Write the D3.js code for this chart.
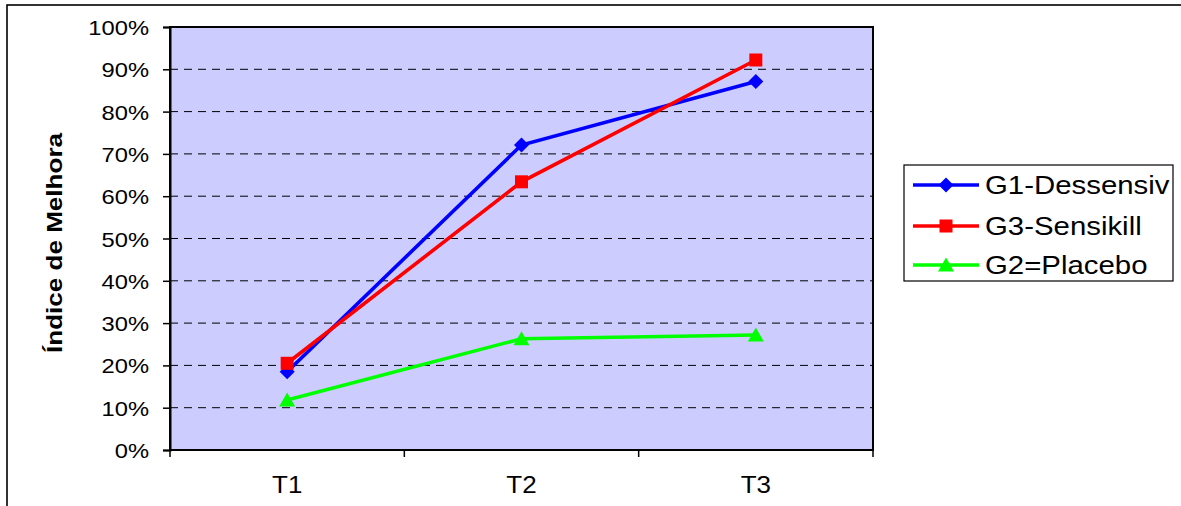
<!DOCTYPE html>
<html><head><meta charset="utf-8">
<script src="https://cdn.jsdelivr.net/npm/d3@7"></script>
<style>body{margin:0;background:#fff}svg{display:block}text{font-family:"Liberation Sans",Arial,sans-serif;fill:#000}</style>
</head><body>
<svg id="c" width="1181" height="506"></svg>
<script>
const categories = ["T1", "T2", "T3"];
const seriesNames = ["G1-Dessensiv", "G3-Sensikill", "G2=Placebo"];
const g1Values = [0.185, 0.721, 0.871];
const g3Values = [0.205, 0.634, 0.922];
const g2Values = [0.118, 0.263, 0.272];
const yTickValues = [0, 0.1, 0.2, 0.3, 0.4, 0.5, 0.6, 0.7, 0.8, 0.9, 1.0];
const yTickLabels = ["0%", "10%", "20%", "30%", "40%", "50%", "60%", "70%", "80%", "90%", "100%"];
const yTitle = "Índice de Melhora";

const series = [
  {name: seriesNames[0], values: g1Values, color: "#0000FF", marker: "diamond"},
  {name: seriesNames[1], values: g3Values, color: "#FF0000", marker: "square"},
  {name: seriesNames[2], values: g2Values, color: "#00FF00", marker: "triangle"}
];

const SX = 1.13;
const svg = d3.select("#c");
const L = 170, R = 873, T = 27, B = 450;
const x = d3.scaleBand().domain(categories).range([L, R]);
const y = d3.scaleLinear().domain([0, 1]).range([B, T]);
const cx = c => x(c) + x.bandwidth() / 2;

// outer chart border (cropped)
svg.append("rect").attr("x", 7).attr("y", 5).attr("width", 1300).attr("height", 700)
  .attr("fill", "none").attr("stroke", "#000").attr("stroke-width", 1.6);

// plot area
svg.append("rect").attr("x", L).attr("y", T).attr("width", R - L).attr("height", B - T)
  .attr("fill", "#CCCCFF");

// gridlines
svg.append("g").selectAll("line").data(yTickValues.filter(v => v > 0 && v < 1)).join("line")
  .attr("x1", L).attr("x2", R).attr("y1", d => y(d)).attr("y2", d => y(d))
  .attr("stroke", "#000").attr("stroke-width", 1).attr("stroke-dasharray", "8,6");

svg.append("rect").attr("x", L).attr("y", T).attr("width", R - L).attr("height", B - T)
  .attr("fill", "none").attr("stroke", "#000").attr("stroke-width", 2);

// y axis
const yAxis = svg.append("g").attr("transform", `translate(${L},0)`)
  .call(d3.axisLeft(y).tickValues(yTickValues).tickSize(7).tickPadding(0)
    .tickFormat((d, i) => yTickLabels[i]));
yAxis.select(".domain").attr("stroke", "#000").attr("stroke-width", 2);
yAxis.selectAll(".tick line").attr("stroke", "#000").attr("stroke-width", 1.5);
yAxis.selectAll(".tick text").attr("font-size", 21).attr("x", -21 / SX)
  .attr("dy", "0.36em").attr("transform", `scale(${SX},1)`).attr("fill", "#000");

// x axis
const xg = svg.append("g");
xg.append("line").attr("x1", L).attr("x2", R).attr("y1", B).attr("y2", B).attr("stroke", "#000").attr("stroke-width", 2);
const bounds = categories.map(c => x(c)).concat([x(categories[categories.length - 1]) + x.bandwidth()]);
xg.selectAll("line.tk").data(bounds).join("line").attr("class", "tk")
  .attr("x1", d => d).attr("x2", d => d).attr("y1", B).attr("y2", B + 7)
  .attr("stroke", "#000").attr("stroke-width", 1.5);
xg.selectAll("text").data(categories).join("text")
  .attr("transform", d => `translate(${cx(d)},493) scale(${SX},1)`)
  .attr("text-anchor", "middle").attr("font-size", 23).text(d => d);

// y title
svg.append("text").attr("transform", "translate(62,243) rotate(-90)")
  .attr("text-anchor", "middle").attr("font-size", 22).attr("font-weight", "bold")
  .attr("textLength", 220).attr("lengthAdjust", "spacingAndGlyphs").text(yTitle);

// markers
function drawMarker(sel, type, color) {
  if (type === "diamond") {
    sel.append("path").attr("d", "M0,-7.5L7.5,0L0,7.5L-7.5,0Z").attr("fill", color);
  } else if (type === "square") {
    sel.append("rect").attr("x", -6.5).attr("y", -6.5).attr("width", 13).attr("height", 13).attr("fill", color);
  } else {
    sel.append("path").attr("d", "M0,-7.5L8,6.5L-8,6.5Z").attr("fill", color);
  }
}

const line = d3.line().x((d, i) => cx(categories[i])).y(d => y(d));
series.forEach(s => {
  svg.append("path").attr("d", line(s.values)).attr("fill", "none")
    .attr("stroke", s.color).attr("stroke-width", 3.6);
  s.values.forEach((v, i) => {
    const g = svg.append("g").attr("transform", `translate(${cx(categories[i])},${y(v)})`);
    drawMarker(g, s.marker, s.color);
  });
});

// legend
const lg = svg.append("g");
lg.append("rect").attr("x", 904).attr("y", 165).attr("width", 269).attr("height", 116)
  .attr("fill", "#fff").attr("stroke", "#000").attr("stroke-width", 1.2);
const rowY = [185, 226, 265];
series.forEach((s, i) => {
  const r = lg.append("g").attr("transform", `translate(0,${rowY[i]})`);
  r.append("line").attr("x1", 913).attr("x2", 979).attr("y1", 0).attr("y2", 0)
    .attr("stroke", s.color).attr("stroke-width", 3.6);
  drawMarker(r.append("g").attr("transform", "translate(946,0)"), s.marker, s.color);
  r.append("text").attr("transform", `translate(985,9) scale(${SX},1)`)
    .attr("font-size", 26).text(s.name);
});
</script>
</body></html>
